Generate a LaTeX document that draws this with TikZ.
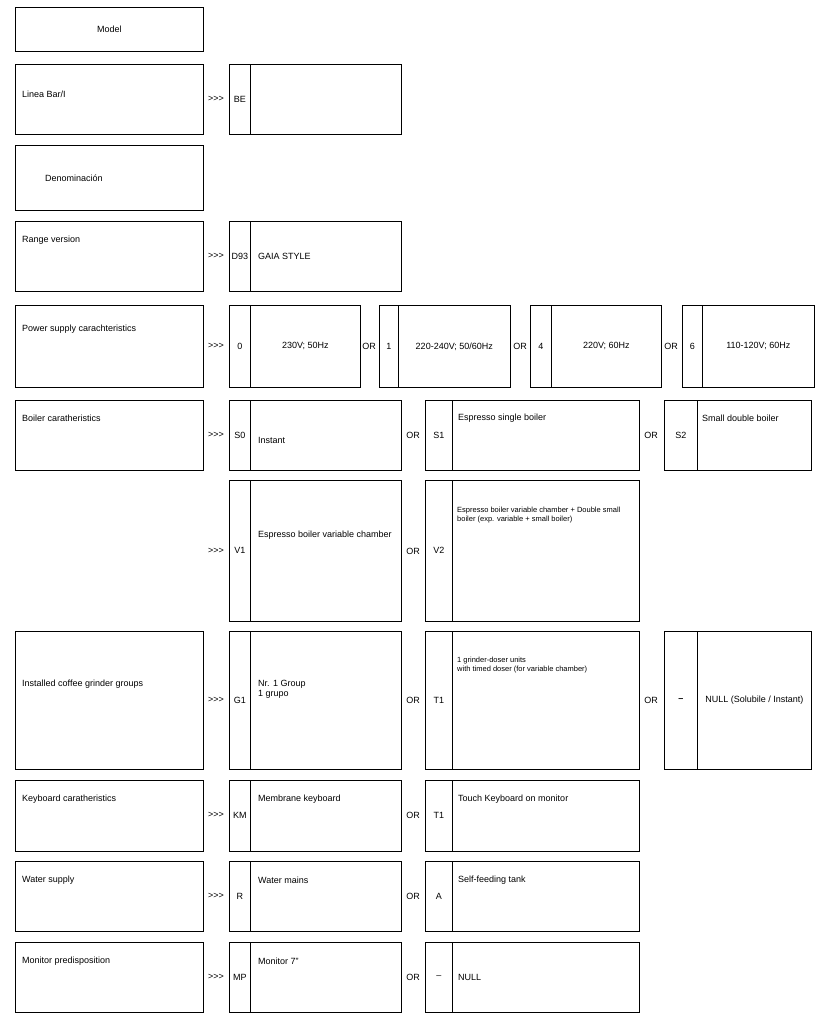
\documentclass[tikz,border=0pt]{standalone}
\usepackage{fontspec}
\setmainfont{Liberation Sans}
\begin{document}
\begin{tikzpicture}[x=1pt,y=-1pt,
  bx/.style={draw,line width=0.7pt,inner sep=0pt,anchor=north west},
  t/.style={anchor=west,inner sep=0pt,font=\fontsize{9}{10}\selectfont},
  c/.style={inner sep=0pt,font=\fontsize{9}{10}\selectfont}]
\useasboundingbox (0,0) rectangle (832,1017);
\newcommand\bx[5]{\node[bx,minimum width=#4-#2,minimum height=#5-#3] (#1) at (#2,#3) {};}
% left boxes
\bx{model}{15}{7}{203}{51}
\node[c] at (model.center) {Model};
\bx{linea}{15}{64}{203}{134}
\node[t] (lineaT) at (22,94) {Linea Bar/I};
\bx{denom}{15}{145}{203}{210}
\node[t] (denomT) at (45,178) {Denominación};
\bx{range}{15}{221}{203}{291}
\node[t] (rangeT) at (22,240) {Range version};
\bx{power}{15}{305}{203}{387}
\node[t] (powerT) at (22,329) {Power supply carachteristics};
\bx{boiler}{15}{400}{203}{470}
\node[t] (boilerT) at (22,418) {Boiler caratheristics};
\bx{grinder}{15}{631}{203}{769}
\node[t] (grinderT) at (22,684) {Installed coffee grinder groups};
\bx{keyb}{15}{780}{203}{851}
\node[t] (keybT) at (22,799) {Keyboard caratheristics};
\bx{water}{15}{861}{203}{931}
\node[t] (waterT) at (22,880) {Water supply};
\bx{monit}{15}{942}{203}{1012}
\node[t] (monitT) at (22,961) {Monitor predisposition};
% >>> marks
\foreach \n/\y in {a/99,b/256,c/346,d/435,e/551,f/700,g/815,h/896,i/977}
  \node[c] (gt\n) at (216,\y) {>{}>{}>};
% row Linea
\bx{beC}{229}{64}{250}{134}\node[c] at (beC.center) {BE};
\bx{beD}{250}{64}{401}{134}
% range
\bx{dC}{229}{221}{250}{291}\node[c] at (dC.center) {D93};
\bx{dD}{250}{221}{401}{291}\node[t] at (258,256) {GAIA STYLE};
% power
\bx{p0}{229}{305}{250}{387}\node[c] at (p0.center) {0};
\bx{p0d}{250}{305}{360}{387}\node[c] at (p0d.center) {230V; 50Hz};
\node[c] at (369,346) {OR};
\bx{p1}{379}{305}{398}{387}\node[c] at (p1.center) {1};
\bx{p1d}{398}{305}{510}{387}\node[c] at (p1d.center) {220-240V; 50/60Hz};
\node[c] at (520,346) {OR};
\bx{p4}{530}{305}{551}{387}\node[c] at (p4.center) {4};
\bx{p4d}{551}{305}{661}{387}\node[c] at (p4d.center) {220V; 60Hz};
\node[c] at (671,346) {OR};
\bx{p6}{682}{305}{702}{387}\node[c] at (p6.center) {6};
\bx{p6d}{702}{305}{814}{387}\node[c] at (p6d.center) {110-120V; 60Hz};
% boiler
\bx{s0}{229}{400}{250}{470}\node[c] at (s0.center) {S0};
\bx{s0d}{250}{400}{401}{470}\node[t] at (258,440) {Instant};
\node[c] at (413,435) {OR};
\bx{s1}{425}{400}{452}{470}\node[c] at (s1.center) {S1};
\bx{s1d}{452}{400}{639}{470}\node[t] at (458,418) {Espresso single boiler};
\node[c] at (651,435) {OR};
\bx{s2}{664}{400}{697}{470}\node[c] at (s2.center) {S2};
\bx{s2d}{697}{400}{811}{470}\node[t] at (702,418) {Small double boiler};
% V row
\bx{v1}{229}{480}{250}{621}\node[c] at (v1.center) {V1};
\bx{v1d}{250}{480}{401}{621}\node[t] at (258,535) {Espresso boiler variable chamber};
\node[c] at (413,551) {OR};
\bx{v2}{425}{480}{452}{621}\node[c] at (v2.center) {V2};
\bx{v2d}{452}{480}{639}{621}
\node[anchor=north west,inner sep=0pt,align=left,font=\fontsize{7.5}{9}\selectfont] at (457,507) {Espresso boiler variable chamber + Double small\\boiler (exp. variable + small boiler)};
% grinder
\bx{g1}{229}{631}{250}{769}\node[c] at (g1.center) {G1};
\bx{g1d}{250}{631}{401}{769}
\node[anchor=north west,inner sep=0pt,align=left,font=\fontsize{9}{10}\selectfont] at (258,680) {Nr. 1 Group\\1 grupo};
\node[c] at (413,700) {OR};
\bx{t1}{425}{631}{452}{769}\node[c] at (t1.center) {T1};
\bx{t1d}{452}{631}{639}{769}
\node[anchor=north west,inner sep=0pt,align=left,font=\fontsize{7.5}{9}\selectfont] at (457,657) {1 grinder-doser units\\with timed doser (for variable chamber)};
\node[c] at (651,700) {OR};
\bx{gn}{664}{631}{697}{769}\node[c] at (gn.center) {\textbf{--}};
\bx{gnd}{697}{631}{811}{769}\node[c] at (gnd.center) {NULL (Solubile / Instant)};
% keyboard
\bx{km}{229}{780}{250}{851}\node[c] at (km.center) {KM};
\bx{kmd}{250}{780}{401}{851}\node[t] at (258,799) {Membrane keyboard};
\node[c] at (413,815) {OR};
\bx{kt}{425}{780}{452}{851}\node[c] at (kt.center) {T1};
\bx{ktd}{452}{780}{639}{851}\node[t] at (458,799) {Touch Keyboard on monitor};
% water
\bx{r}{229}{861}{250}{931}\node[c] at (r.center) {R};
\bx{rd}{250}{861}{401}{931}\node[t] at (258,880) {Water mains};
\node[c] at (413,896) {OR};
\bx{a}{425}{861}{452}{931}\node[c] at (a.center) {A};
\bx{ad}{452}{861}{639}{931}\node[t] at (458,880) {Self-feeding tank};
% monitor
\bx{mp}{229}{942}{250}{1012}\node[c] at (mp.center) {MP};
\bx{mpd}{250}{942}{401}{1012}\node[t] at (258,961) {Monitor 7''};
\node[c] at (413,977) {OR};
\bx{mn}{425}{942}{452}{1012}\node[c] at (mn.center) {--};
\bx{mnd}{452}{942}{639}{1012}\node[t] at (458,977) {NULL};
\end{tikzpicture}
\end{document}
